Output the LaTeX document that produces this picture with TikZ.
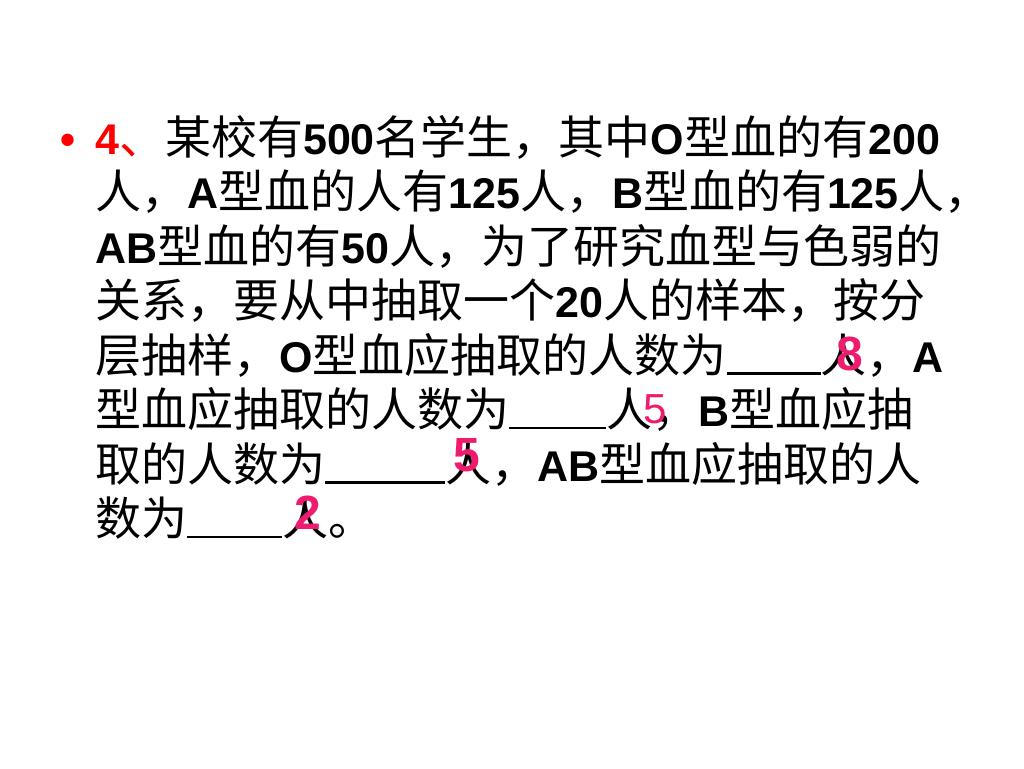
\documentclass[tikz,border=0pt]{standalone}
\usepackage{fontspec}
\setmainfont{Noto Sans CJK SC}
\newfontfamily\latb{Liberation Sans Bold}
\newfontfamily\latr{Liberation Sans}
\definecolor{ansred}{RGB}{238,28,110}
\newcommand\en[1]{{\fontsize{43}{55}\selectfont\latb #1}}
\newcommand\blank[1]{\rule[-2.5pt]{#1pt}{2.5pt}}
\tikzset{
  line/.style={anchor=base west, inner sep=0pt, font=\fontsize{46}{55}\selectfont},
  ans/.style={anchor=base, inner sep=0pt, text=ansred, font=\fontsize{48}{55}\selectfont\latb},
  ansthin/.style={anchor=base, inner sep=0pt, text=ansred, font=\fontsize{42}{50}\selectfont\latr}
}
\begin{document}
\begin{tikzpicture}[x=1pt,y=1pt]
\useasboundingbox[fill=white] (0,0) rectangle (1024,-768);
\node[line, text=red] (bul) at (60,-154) {\en{•}};
\node[line] (l1) at (95,-154) {\textcolor{red}{\en{4}、}某校有\en{500}名学生，其中\en{O}型血的有\en{200}};
\node[line] (l2) at (95,-208.5) {人，\en{A}型血的人有\en{125}人，\en{B}型血的有\en{125}人，};
\node[line] (l3) at (95,-263) {\en{AB}型血的有\en{50}人，为了研究血型与色弱的};
\node[line] (l4) at (95,-317.5) {关系，要从中抽取一个\en{20}人的样本，按分};
\node[line] (l5) at (95,-372) {层抽样，\en{O}型血应抽取的人数为\blank{94}人，\en{A}};
\node[line] (l6) at (95,-426.5) {型血应抽取的人数为\blank{97}人，\en{B}型血应抽};
\node[line] (l7) at (95,-481) {取的人数为\blank{120}人，\en{AB}型血应抽取的人};
\node[line] (l8) at (95,-535.5) {数为\blank{95}人。};
\node[ans] (a1) at (850,-370) {8};
\node[ansthin] (a2) at (655,-423) {5};
\node[ans] (a3) at (467,-471) {5};
\node[ans] (a4) at (308,-529) {2};
\end{tikzpicture}
\end{document}
